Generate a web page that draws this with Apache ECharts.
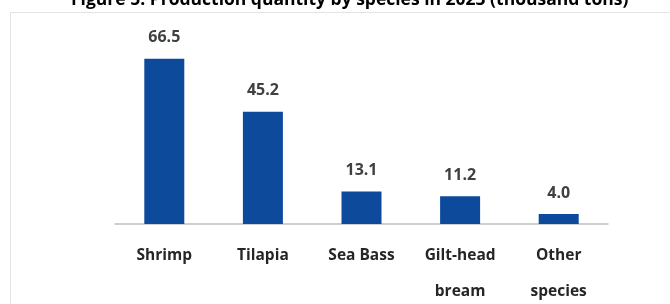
<!DOCTYPE html>
<html>
<head>
<meta charset="utf-8">
<script src="https://cdn.jsdelivr.net/npm/echarts@6/dist/echarts.min.js"></script>
<style>
  html, body { margin: 0; padding: 0; background: #fff; }
  #chart { width: 670px; height: 304px; }
</style>
</head>
<body>
<div id="chart"></div>
<script>
const species = ['Shrimp', 'Tilapia', 'Sea Bass', 'Gilt-head\nbream', 'Other\nspecies']
const quantity = [66.5, 45.2, 13.1, 11.2, 4.0]

const chart = echarts.init(document.getElementById('chart'))

chart.setOption({
  animation: false,
  textStyle: { fontFamily: 'Open Sans' },
  title: {
    text: 'Figure 5. Production quantity by species in 2023 (thousand tons)',
    left: 66,
    top: -14,
    textStyle: { fontSize: 17.5, fontWeight: 'bold', color: '#000', fontFamily: 'Open Sans' }
  },
  graphic: [{
    type: 'rect',
    silent: true,
    z: -1,
    shape: { x: 10.5, y: 12.5, width: 700, height: 320 },
    style: { fill: 'none', stroke: '#e3e3e3', lineWidth: 1 }
  }],
  grid: { left: 115, right: 62, top: 50, bottom: 80, outerBoundsMode: 'none' },
  xAxis: {
    type: 'category',
    data: species,
    axisLine: { lineStyle: { color: '#bfbfbf', width: 1.5 } },
    axisTick: { show: false },
    axisLabel: {
      color: '#262626',
      fontSize: 15.5,
      fontWeight: 'bold',
      lineHeight: 36,
      margin: 14,
      interval: 0
    }
  },
  yAxis: {
    type: 'value',
    min: 0,
    max: 70,
    show: false,
    splitLine: { show: false }
  },
  series: [{
    type: 'bar',
    data: quantity,
    barWidth: 40,
    itemStyle: { color: '#0e4a9b' },
    label: {
      show: true,
      position: 'top',
      distance: 13,
      fontSize: 16,
      fontWeight: 'bold',
      color: '#404040',
      formatter: p => p.value.toFixed(1)
    }
  }]
})
</script>
</body>
</html>
